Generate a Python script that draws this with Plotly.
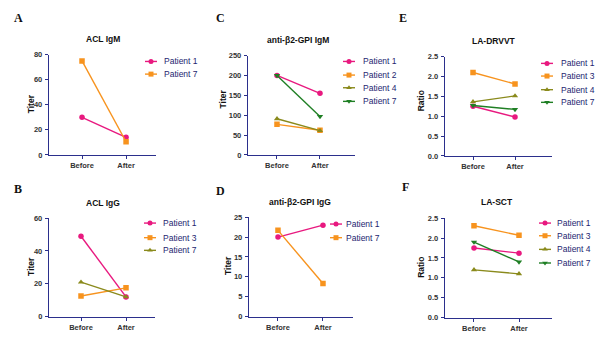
import plotly.graph_objects as go

W, H = 600, 342
categories = ["Before", "After"]
cat_pos = [0, 1]

# ---- data ----
acl_igm_p1 = [30, 14]
acl_igm_p7 = [75, 10.5]

acl_igg_p1 = [49, 12]
acl_igg_p3 = [12.5, 17.5]
acl_igg_p7 = [21, 12]

b2_igm_p1 = [200, 155]
b2_igm_p2 = [77, 62]
b2_igm_p4 = [91, 61]
b2_igm_p7 = [200, 97]

b2_igg_p1 = [20, 23]
b2_igg_p7 = [21.7, 8.3]

drvvt_p1 = [1.25, 0.98]
drvvt_p3 = [2.10, 1.81]
drvvt_p4 = [1.36, 1.51]
drvvt_p7 = [1.27, 1.17]

sct_p1 = [1.75, 1.62]
sct_p3 = [2.31, 2.07]
sct_p4 = [1.20, 1.10]
sct_p7 = [1.90, 1.40]

STYLES = [("#e8197f", "circle"), ("#f7931e", "square"),
          ("#8a8a1c", "triangle-up"), ("#1f7f24", "triangle-down")]
AXC = "#2b2f8c"
TXT = "#232570"
FONT = "Liberation Sans"

panels = [
    dict(letter="A", title="ACL IgM", ytitle="Titer", dom_x=(49, 156), dom_y=(52, 155),
         xr=(-0.75, 1.68), yr=(0, 80), dt=20, fmt="",
         series=[("Patient 1", acl_igm_p1), ("Patient 7", acl_igm_p7)],
         letter_xy=(18, 14), title_xy=(103, 36), ytitle_xy=(31, 103),
         leg_x=(145, 157, 162), leg_y=[59, 72]),
    dict(letter="C", title="anti-β2-GPI IgM", ytitle="Titer", dom_x=(248, 355), dom_y=(53, 155),
         xr=(-0.674, 1.814), yr=(0, 250), dt=50, fmt="",
         series=[("Patient 1", b2_igm_p1), ("Patient 2", b2_igm_p2),
                 ("Patient 4", b2_igm_p4), ("Patient 7", b2_igm_p7)],
         letter_xy=(220, 14), title_xy=(298, 37), ytitle_xy=(223, 98),
         leg_x=(343, 355, 361), leg_y=[59, 73, 86, 100]),
    dict(letter="E", title="LA-DRVVT", ytitle="Ratio", dom_x=(445, 552), dom_y=(54, 156),
         xr=(-0.667, 1.88), yr=(0, 2.5), dt=0.5, fmt=".1f",
         series=[("Patient 1", drvvt_p1), ("Patient 3", drvvt_p3),
                 ("Patient 4", drvvt_p4), ("Patient 7", drvvt_p7)],
         letter_xy=(403, 14), title_xy=(494, 38), ytitle_xy=(421, 100),
         leg_x=(541, 553, 559), leg_y=[61, 74, 88, 101]),
    dict(letter="B", title="ACL IgG", ytitle="Titer", dom_x=(49, 155), dom_y=(220, 321),
         xr=(-0.711, 1.644), yr=(0, 60), dt=20, fmt="",
         series=[("Patient 1", acl_igg_p1), ("Patient 3", acl_igg_p3), ("Patient 7", acl_igg_p7)],
         letter_xy=(18, 190), title_xy=(103, 204), ytitle_xy=(31, 270),
         leg_x=(144, 156, 161), leg_y=[225, 240, 253]),
    dict(letter="D", title="anti-β2-GPI IgG", ytitle="Titer", dom_x=(249, 353), dom_y=(219, 321),
         xr=(-0.644, 1.667), yr=(0, 25), dt=5, fmt="",
         series=[("Patient 1", b2_igg_p1), ("Patient 7", b2_igg_p7)],
         letter_xy=(220, 192), title_xy=(300, 203), ytitle_xy=(228, 269),
         leg_x=(330, 342, 344), leg_y=[226, 240]),
    dict(letter="F", title="LA-SCT", ytitle="Ratio", dom_x=(445, 552), dom_y=(220, 322),
         xr=(-0.644, 1.733), yr=(0, 2.5), dt=0.5, fmt=".1f",
         series=[("Patient 1", sct_p1), ("Patient 3", sct_p3),
                 ("Patient 4", sct_p4), ("Patient 7", sct_p7)],
         letter_xy=(405, 188), title_xy=(497, 203), ytitle_xy=(421, 271),
         leg_x=(539, 551, 555), leg_y=[225, 238, 252, 266]),
]

fig = go.Figure()
layout = {}
annotations = []
OV = 7  # overlay axis index for legend/labels in pixel coordinates

for i, p in enumerate(panels, start=1):
    xa, ya = f"x{i}", f"y{i}"
    for k, (name, vals) in enumerate(p["series"]):
        col, sym = STYLES[k]
        fig.add_trace(go.Scatter(x=cat_pos, y=vals, mode="lines+markers", name=name,
                                 xaxis=xa, yaxis=ya, showlegend=False,
                                 line=dict(color=col, width=1.4),
                                 marker=dict(color=col, symbol=sym, size=5.5)))
    # legend samples on the pixel overlay axis
    lx0, lx1, tx = p["leg_x"]
    for k, ((name, _), ly) in enumerate(zip(p["series"], p["leg_y"])):
        col, sym = STYLES[k]
        fig.add_trace(go.Scatter(x=[lx0, lx1], y=[ly, ly], mode="lines",
                                 xaxis=f"x{OV}", yaxis=f"y{OV}", showlegend=False,
                                 hoverinfo="skip", line=dict(color=col, width=1.4)))
        fig.add_trace(go.Scatter(x=[(lx0 + lx1) / 2], y=[ly], mode="markers",
                                 xaxis=f"x{OV}", yaxis=f"y{OV}", showlegend=False,
                                 hoverinfo="skip", marker=dict(color=col, symbol=sym, size=5)))
        annotations.append(dict(x=tx, y=ly, xref=f"x{OV}", yref=f"y{OV}", text=name,
                                showarrow=False, xanchor="left", yanchor="middle",
                                font=dict(family=FONT, size=8.5, color=TXT)))
    x0, x1 = p["dom_x"]
    y0, y1 = p["dom_y"]
    ymax = p["yr"][1]
    n = int(round(ymax / p["dt"]))
    tvals = [round(j * p["dt"], 3) for j in range(n + 1)]
    ttext = [format(v, p["fmt"]) if p["fmt"] else str(int(v)) for v in tvals]
    layout[f"xaxis{i}"] = dict(domain=[x0 / W, x1 / W], range=list(p["xr"]), anchor=ya,
                               tickvals=cat_pos, ticktext=categories, showgrid=False, zeroline=False,
                               showline=True, linecolor=AXC, linewidth=1.4,
                               ticks="outside", ticklen=3, tickcolor=AXC, tickwidth=1.2,
                               tickfont=dict(family=FONT, size=7.5, color="#333333", weight="bold"),
                               fixedrange=True)
    layout[f"yaxis{i}"] = dict(domain=[1 - y1 / H, 1 - y0 / H], range=list(p["yr"]), anchor=xa,
                               tickvals=tvals, ticktext=ttext, showgrid=False, zeroline=False,
                               showline=True, linecolor=AXC, linewidth=1.4,
                               ticks="outside", ticklen=3, tickcolor=AXC, tickwidth=1.2,
                               ticklabelstandoff=1,
                               tickfont=dict(family=FONT, size=7.5, color="#333333", weight="bold"),
                               fixedrange=True)
    lx, ly = p["letter_xy"]
    annotations.append(dict(x=lx, y=ly, xref=f"x{OV}", yref=f"y{OV}", text=p["letter"],
                            showarrow=False, xanchor="center", yanchor="middle",
                            font=dict(family="Liberation Serif", size=12, color="#111111", weight="bold")))
    tx_, ty_ = p["title_xy"]
    annotations.append(dict(x=tx_, y=ty_, xref=f"x{OV}", yref=f"y{OV}", text=p["title"],
                            showarrow=False, xanchor="center", yanchor="middle",
                            font=dict(family=FONT, size=8.5, color="#111111", weight="bold")))
    ax_, ay_ = p["ytitle_xy"]
    annotations.append(dict(x=ax_, y=ay_, xref=f"x{OV}", yref=f"y{OV}", text=p["ytitle"],
                            showarrow=False, xanchor="center", yanchor="middle", textangle=-90,
                            font=dict(family=FONT, size=8.5, color="#111111", weight="bold")))

layout[f"xaxis{OV}"] = dict(domain=[0, 1], range=[0, W], visible=False, fixedrange=True, anchor=f"y{OV}")
layout[f"yaxis{OV}"] = dict(domain=[0, 1], range=[H, 0], visible=False, fixedrange=True, anchor=f"x{OV}")

fig.update_layout(**layout)
fig.update_layout(width=W, height=H, margin=dict(l=0, r=0, t=0, b=0),
                  paper_bgcolor="white", plot_bgcolor="rgba(0,0,0,0)",
                  showlegend=False, annotations=annotations, hovermode=False)

fig.write_html("out.html")
